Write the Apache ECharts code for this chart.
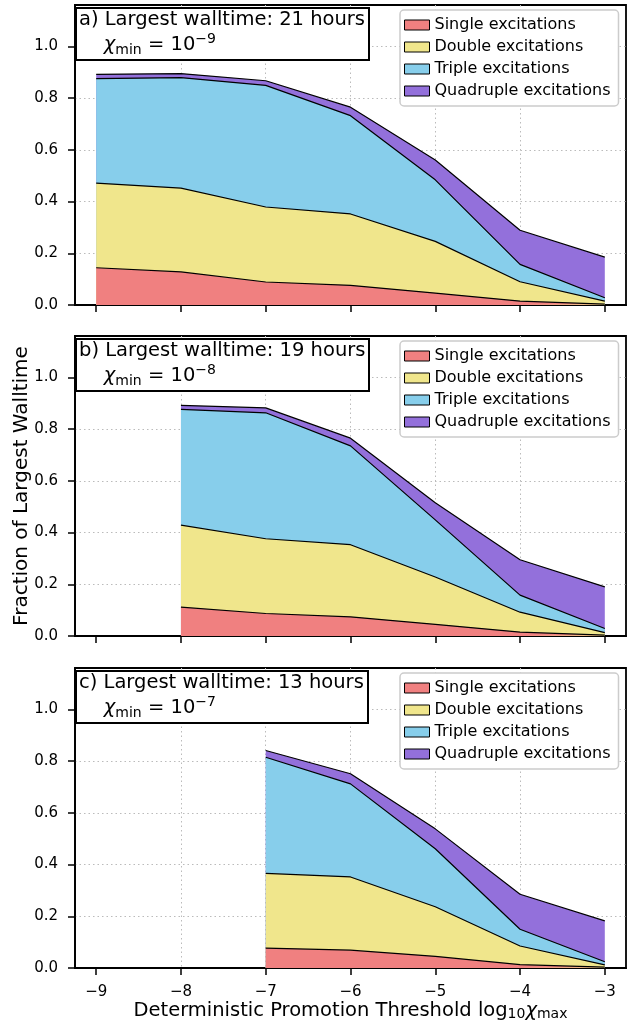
<!DOCTYPE html>
<html>
<head>
<meta charset="utf-8">
<script src="https://cdn.jsdelivr.net/npm/echarts@6/dist/echarts.min.js"></script>
<style>
html,body{margin:0;padding:0;background:#fff;}
#main{width:631px;height:1021px;}
</style>
</head>
<body>
<div id="main"></div>
<script>
var thresholds = [-9, -8, -7, -6, -5, -4, -3];
var tickLabels = [-9, -8, -7, -6, -5, -4, -3];
var seriesNames = ['Single excitations', 'Double excitations', 'Triple excitations', 'Quadruple excitations'];
var fillColors = ['#f08080', '#f0e68c', '#87ceeb', '#9370db'];

// a) chi_min = 1e-9
var singleA = [0.144, 0.128, 0.089, 0.076, 0.046, 0.015, 0.003];
var doubleA = [0.327, 0.324, 0.290, 0.276, 0.200, 0.075, 0.012];
var tripleA = [0.404, 0.427, 0.470, 0.380, 0.238, 0.067, 0.013];
var quadA   = [0.017, 0.016, 0.018, 0.033, 0.077, 0.132, 0.157];

// b) chi_min = 1e-8
var singleB = [null, 0.112, 0.087, 0.074, 0.045, 0.015, 0.003];
var doubleB = [null, 0.317, 0.289, 0.279, 0.183, 0.077, 0.010];
var tripleB = [null, 0.447, 0.487, 0.382, 0.221, 0.066, 0.016];
var quadB   = [null, 0.016, 0.019, 0.030, 0.066, 0.137, 0.161];

// c) chi_min = 1e-7
var singleC = [null, null, 0.077, 0.069, 0.045, 0.013, 0.003];
var doubleC = [null, null, 0.289, 0.283, 0.192, 0.072, 0.009];
var tripleC = [null, null, 0.449, 0.360, 0.224, 0.065, 0.012];
var quadC   = [null, null, 0.026, 0.039, 0.077, 0.135, 0.158];

var panels = [
	{label: 'a) Largest walltime: 21 hours', exp: '\u22129', data: [singleA, doubleA, tripleA, quadA]},
	{label: 'b) Largest walltime: 19 hours', exp: '\u22128', data: [singleB, doubleB, tripleB, quadB]},
	{label: 'c) Largest walltime: 13 hours', exp: '\u22127', data: [singleC, doubleC, tripleC, quadC]}
];
var gridTops = [5, 336, 668];
var gridH = 300;

var font = 'DejaVu Sans';
function fmtX(v)
{
	return (v < 0 ? '\u2212' : '') + Math.abs(v);
}

var option = {
	animation: false,
	backgroundColor: '#fff',
	textStyle: {fontFamily: font},
	grid: [], xAxis: [], yAxis: [], series: [], title: [], legend: []
};

for (var p = 0; p < panels.length; p++)
{
	option.grid.push({
		left: 75, right: 5, top: gridTops[p], height: gridH,
		outerBoundsMode: 'none', containLabel: false,
		show: true, borderColor: '#000', borderWidth: 1.8, backgroundColor: '#fff'
	});
	option.xAxis.push({
		type: 'value', gridIndex: p, min: -9.25, max: -2.75,
		axisLine: {show: true, onZero: false, lineStyle: {color: '#000', width: 1.8}},
		axisTick: {show: true, customValues: tickLabels, length: 7, lineStyle: {color: '#000', width: 1.5}},
		axisLabel: {show: p == 2, customValues: tickLabels, formatter: fmtX, color: '#000', fontSize: 15, margin: 17},
		splitLine: {show: true, showMinLine: false, showMaxLine: false, lineStyle: {color: '#bbbbbb', type: [1.5, 3], width: 1}},
		name: p == 2 ? '{n|Deterministic Promotion Threshold log}{sb|10}{c|\u03c7}{sb|max}' : '',
		nameLocation: 'middle', nameGap: 32,
		nameTextStyle: {
			rich: {
				n: {fontSize: 19.5, fontFamily: font, color: '#000'},
				c: {fontSize: 19.5, fontFamily: font, fontStyle: 'italic', color: '#000'},
				sb: {fontSize: 14, fontFamily: font, color: '#000', verticalAlign: 'bottom', padding: [7, 0, 0, 0]}
			}
		}
	});
	option.yAxis.push({
		type: 'value', gridIndex: p, min: 0, max: 1.16, interval: 0.2,
		axisLine: {show: true, lineStyle: {color: '#000', width: 1.8}},
		axisTick: {show: true, length: 7, lineStyle: {color: '#000', width: 1.5}},
		axisLabel: {
			color: '#000', fontSize: 15, margin: 17, showMaxLabel: false,
			formatter: function (v) { return v > 1.05 ? '' : v.toFixed(1); }
		},
		splitLine: {show: true, showMinLine: false, showMaxLine: false, lineStyle: {color: '#bbbbbb', type: [1.5, 3], width: 1}},
		name: p == 1 ? 'Fraction of Largest Walltime' : '',
		nameLocation: 'middle', nameGap: 43, nameMoveOverlap: false,
		nameTextStyle: {fontSize: 20, color: '#000'}
	});
	// cumulative tops, drawn from the top layer down so lower layers cover upper ones
	var tops = [];
	for (var s = 0; s < 4; s++)
	{
		var pts = [];
		for (var i = 0; i < thresholds.length; i++)
		{
			var v = panels[p].data[s][i];
			if (v == null) continue;
			var sum = 0;
			for (var k = 0; k <= s; k++) sum += panels[p].data[k][i];
			pts.push([thresholds[i], +sum.toFixed(4)]);
		}
		tops.push(pts);
	}
	for (var s = 3; s >= 0; s--)
	{
		option.series.push({
			name: seriesNames[s], type: 'line', xAxisIndex: p, yAxisIndex: p,
			data: tops[s], symbol: 'none', color: fillColors[s],
			lineStyle: {color: '#000', width: 1.2},
			areaStyle: {color: fillColors[s], opacity: 1}
		});
	}
	option.title.push({
		left: 76, top: gridTops[p],
		text: '{t|' + panels[p].label + '}\n{s|    }{c|\u03c7}{sb|min}{s| = 10}{sp|' + panels[p].exp + '}',
		backgroundColor: '#fff', borderColor: '#000', borderWidth: 2,
		padding: [2, 4, 3, 3],
		textStyle: {
			fontWeight: 'normal',
			rich: {
				t: {fontSize: 19.5, fontFamily: font, fontWeight: 'normal', color: '#000', lineHeight: 25},
				s: {fontSize: 19.5, fontFamily: font, fontWeight: 'normal', color: '#000', lineHeight: 25},
				c: {fontSize: 19.5, fontFamily: font, fontWeight: 'normal', fontStyle: 'italic', color: '#000', lineHeight: 25},
				sb: {fontSize: 14, fontFamily: font, fontWeight: 'normal', color: '#000', verticalAlign: 'bottom', padding: [9, 0, 0, 0]},
				sp: {fontSize: 14, fontFamily: font, fontWeight: 'normal', color: '#000', verticalAlign: 'top', padding: [0, 0, 9, 0]}
			}
		}
	});
	option.legend.push({
		orient: 'vertical', left: 400, top: gridTops[p] + 5,
		data: seriesNames, icon: 'rect', itemWidth: 25, itemHeight: 10, itemGap: 6,
		backgroundColor: '#fff', borderColor: '#cccccc', borderWidth: 1.5, borderRadius: 4,
		padding: [7, 8, 7, 4],
		itemStyle: {borderColor: '#000', borderWidth: 1},
		lineStyle: {width: 0},
		textStyle: {fontSize: 16, color: '#000', fontFamily: font},
		selectedMode: false
	});
}

var myChart = echarts.init(document.getElementById('main'));
myChart.setOption(option);
window.addEventListener("resize",function(){
	myChart.resize();
});
</script>
</body>
</html>
